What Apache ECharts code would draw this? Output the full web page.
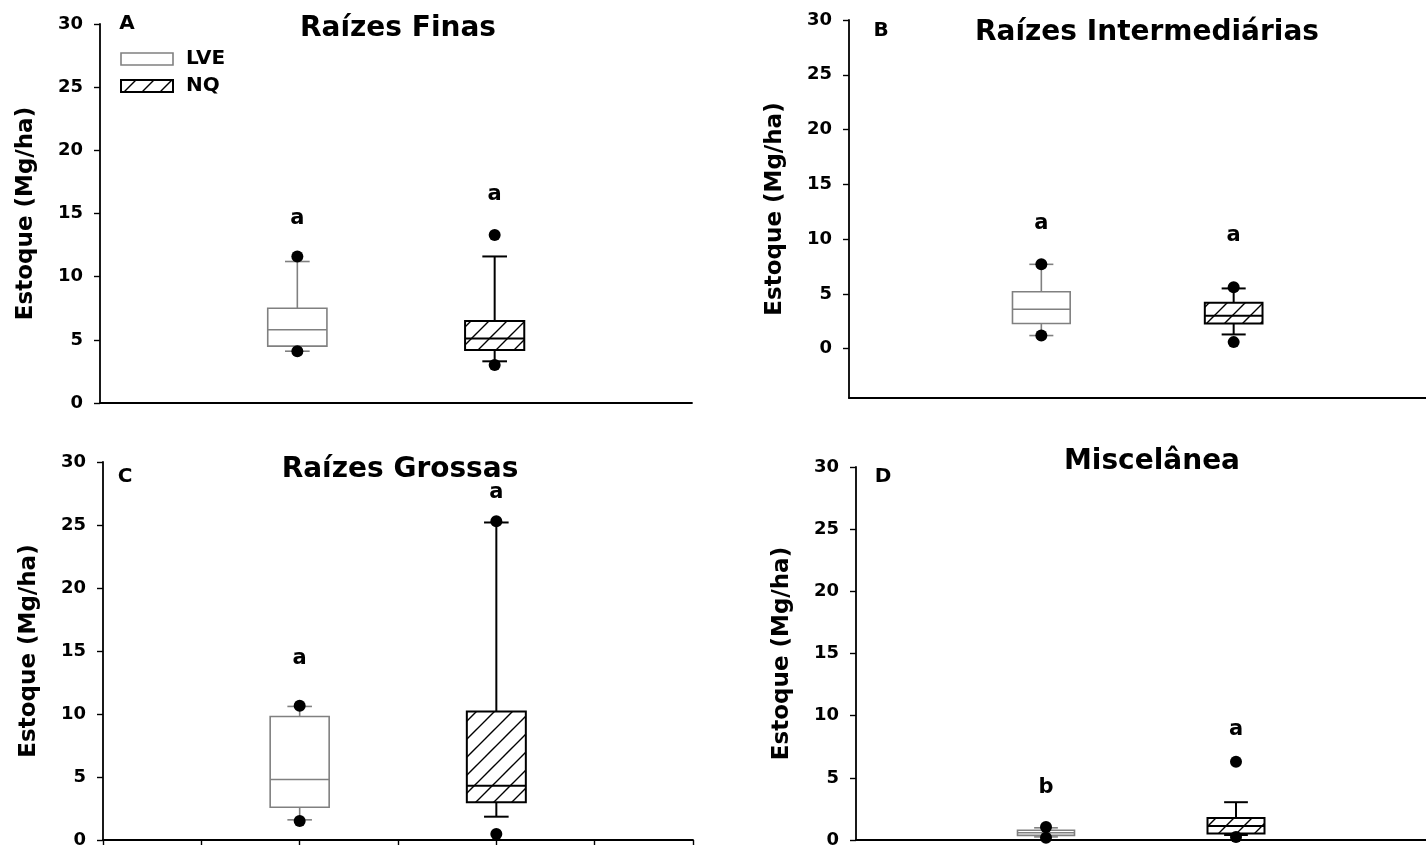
<!DOCTYPE html>
<html>
<head>
<meta charset="utf-8">
<script src="https://cdn.jsdelivr.net/npm/echarts@6/dist/echarts.min.js"></script>
<style>
html,body{margin:0;padding:0;background:#fff;}
#chart{width:1426px;height:849px;}
</style>
</head>
<body>
<div id="chart"></div>
<script>
// ---------- DATA ----------
const groups = ['LVE', 'NQ'];
const groupX = [2, 4];
const panelTitles = ['Raízes Finas', 'Raízes Intermediárias', 'Raízes Grossas', 'Miscelânea'];
const panelLetters = ['A', 'B', 'C', 'D'];
const yTicks = [0, 5, 10, 15, 20, 25, 30];
const yName = 'Estoque (Mg/ha)';

// [lower whisker, Q1, median, Q3, upper whisker]
const finasLVE = [4.1, 4.5, 5.8, 7.5, 11.2];
const finasNQ = [3.3, 4.2, 5.1, 6.5, 11.6];
const interLVE = [1.2, 2.3, 3.6, 5.2, 7.7];
const interNQ = [1.3, 2.3, 3.0, 4.2, 5.5];
const grossasLVE = [1.6, 2.6, 4.8, 9.8, 10.6];
const grossasNQ = [1.85, 3.0, 4.3, 10.2, 25.2];
const miscLVE = [0.25, 0.37, 0.58, 0.79, 0.98];
const miscNQ = [0.4, 0.53, 1.13, 1.77, 3.04];

// outlier points (5th / 95th percentile dots)
const finasOutLVE = [11.6, 4.1];
const finasOutNQ = [13.3, 3.0];
const interOutLVE = [7.7, 1.2];
const interOutNQ = [5.6, 0.6];
const grossasOutLVE = [10.65, 1.5];
const grossasOutNQ = [25.3, 0.47];
const miscOutLVE = [1.05, 0.18];
const miscOutNQ = [6.3, 0.24];

// significance letters and the height they are written at
const finasLetters = ['a', 'a'];
const finasLetterY = [14.6, 16.5];
const interLetters = ['a', 'a'];
const interLetterY = [11.4, 10.3];
const grossasLetters = ['a', 'a'];
const grossasLetterY = [14.4, 27.6];
const miscLetters = ['b', 'a'];
const miscLetterY = [4.2, 8.9];

const panels = [
  {boxes: [finasLVE, finasNQ], outs: [finasOutLVE, finasOutNQ], letters: finasLetters, letterY: finasLetterY},
  {boxes: [interLVE, interNQ], outs: [interOutLVE, interOutNQ], letters: interLetters, letterY: interLetterY},
  {boxes: [grossasLVE, grossasNQ], outs: [grossasOutLVE, grossasOutNQ], letters: grossasLetters, letterY: grossasLetterY},
  {boxes: [miscLVE, miscNQ], outs: [miscOutLVE, miscOutNQ], letters: miscLetters, letterY: miscLetterY}
];

// ---------- STYLE ----------
const FONT = '"DejaVu Sans", "Liberation Sans", Arial, sans-serif';
const GRAY = '#808080';
const BOX_W = 0.6;
const CAP_W = 0.25;

function makeHatch() {
  const s = 18;
  const c = document.createElement('canvas');
  c.width = s; c.height = s;
  const ctx = c.getContext('2d');
  ctx.fillStyle = '#fff';
  ctx.fillRect(0, 0, s, s);
  ctx.strokeStyle = '#000';
  ctx.lineWidth = 1.4;
  ctx.beginPath();
  ctx.moveTo(-2, s + 2); ctx.lineTo(s + 2, -2);
  ctx.moveTo(-2, 2); ctx.lineTo(2, -2);
  ctx.moveTo(s - 2, s + 2); ctx.lineTo(s + 2, s - 2);
  ctx.stroke();
  return c;
}
const hatch = makeHatch();
const hatchFill = {image: hatch, repeat: 'repeat'};

const grids = [
  {left: 100, top: 24, width: 592, height: 379},
  {left: 849, top: 20, width: 591, height: 378},
  {left: 103, top: 462, width: 590, height: 379},
  {left: 856, top: 467, width: 591, height: 378}
];
const yMins = [0, -4.5, 0, 0];

function renderBox(params, api) {
  const x = api.value(0);
  const g = api.value(6);
  const pLow = api.coord([x, api.value(1)]);
  const pQ1 = api.coord([x, api.value(2)]);
  const pMed = api.coord([x, api.value(3)]);
  const pQ3 = api.coord([x, api.value(4)]);
  const pHigh = api.coord([x, api.value(5)]);
  const bw = api.size([BOX_W, 0])[0];
  const cw = api.size([CAP_W, 0])[0];
  const color = g === 0 ? GRAY : '#000';
  const lw = g === 0 ? 1.6 : 2;
  const cx = pMed[0];
  const line = (x1, y1, x2, y2) => ({type: 'line', shape: {x1, y1, x2, y2}, style: {stroke: color, lineWidth: lw}});
  return {
    type: 'group',
    children: [
      line(cx, pLow[1], cx, pQ1[1]),
      line(cx, pQ3[1], cx, pHigh[1]),
      line(cx - cw / 2, pLow[1], cx + cw / 2, pLow[1]),
      line(cx - cw / 2, pHigh[1], cx + cw / 2, pHigh[1]),
      {type: 'rect', shape: {x: cx - bw / 2, y: pQ3[1], width: bw, height: pQ1[1] - pQ3[1]},
       style: {fill: g === 0 ? '#fff' : hatchFill, stroke: color, lineWidth: lw}},
      line(cx - bw / 2, pMed[1], cx + bw / 2, pMed[1])
    ]
  };
}

const xAxes = [], yAxes = [], series = [];
panels.forEach((p, i) => {
  xAxes.push({
    gridIndex: i, type: 'value', min: 0, max: 6, interval: 1,
    axisLine: {show: true, onZero: false, lineStyle: {color: '#000', width: 1.8}},
    axisTick: {show: i === 2, length: 5, lineStyle: {color: '#000', width: 1.4}},
    axisLabel: {show: false}, splitLine: {show: false}
  });
  yAxes.push({
    gridIndex: i, type: 'value', min: yMins[i], max: 30,
    name: yName, nameLocation: 'middle', nameGap: 62,
    nameTextStyle: {fontFamily: FONT, fontWeight: 'bold', fontSize: 23, color: '#000'},
    axisLine: {show: true, onZero: false, lineStyle: {color: '#000', width: 1.8}},
    axisTick: {show: true, length: 6, customValues: yTicks, lineStyle: {color: '#000', width: 1.4}},
    axisLabel: {show: true, customValues: yTicks, margin: 17, fontFamily: FONT, fontWeight: 'bold', fontSize: 18, color: '#000'},
    splitLine: {show: false}
  });
  series.push({
    type: 'custom', xAxisIndex: i, yAxisIndex: i, z: 2,
    renderItem: renderBox,
    encode: {x: 0, y: [1, 2, 3, 4, 5]},
    data: p.boxes.map((b, g) => [groupX[g], b[0], b[1], b[2], b[3], b[4], g])
  });
  const outData = [];
  p.outs.forEach((arr, g) => arr.forEach(v => outData.push([groupX[g], v])));
  series.push({
    type: 'scatter', xAxisIndex: i, yAxisIndex: i, z: 4,
    symbol: 'circle', symbolSize: 12, itemStyle: {color: '#000', opacity: 1},
    data: outData
  });
  series.push({
    type: 'scatter', xAxisIndex: i, yAxisIndex: i, z: 4,
    symbolSize: 0, itemStyle: {color: 'transparent', opacity: 1},
    label: {show: true, position: 'inside', formatter: '{b}', fontFamily: FONT, fontWeight: 'bold', fontSize: 21, color: '#000', opacity: 1},
    data: p.letters.map((l, g) => ({name: l, value: [groupX[g], p.letterY[g]]}))
  });
});

const titlePos = [[398, 29], [1147, 33], [400, 470], [1152, 462]];
const letterPos = [[127, 24], [881, 31], [125, 477], [883, 477]];
const graphics = [];
panelTitles.forEach((t, i) => {
  graphics.push({type: 'text', x: titlePos[i][0], y: titlePos[i][1], z: 10,
    style: {text: t, fontFamily: FONT, fontWeight: 'bold', fontSize: 28, fill: '#000', textAlign: 'center', textVerticalAlign: 'middle'}});
  graphics.push({type: 'text', x: letterPos[i][0], y: letterPos[i][1], z: 10,
    style: {text: panelLetters[i], fontFamily: FONT, fontWeight: 'bold', fontSize: 20, fill: '#000', textAlign: 'center', textVerticalAlign: 'middle'}});
});
// legend (panel A)
const legendY = [59, 86];
groups.forEach((g, k) => {
  graphics.push({type: 'rect', shape: {x: 121, y: legendY[k] - 6, width: 52, height: 12}, z: 10,
    style: {fill: k === 0 ? '#fff' : hatchFill, stroke: k === 0 ? GRAY : '#000', lineWidth: k === 0 ? 1.6 : 2}});
  graphics.push({type: 'text', x: 186, y: legendY[k], z: 10,
    style: {text: g, fontFamily: FONT, fontWeight: 'bold', fontSize: 20, fill: '#000', textAlign: 'left', textVerticalAlign: 'middle'}});
});

const chart = echarts.init(document.getElementById('chart'), null, {renderer: 'canvas'});
chart.setOption({
  backgroundColor: '#fff',
  animation: false,
  grid: grids,
  xAxis: xAxes,
  yAxis: yAxes,
  series: series,
  graphic: graphics
});
</script>
</body>
</html>
